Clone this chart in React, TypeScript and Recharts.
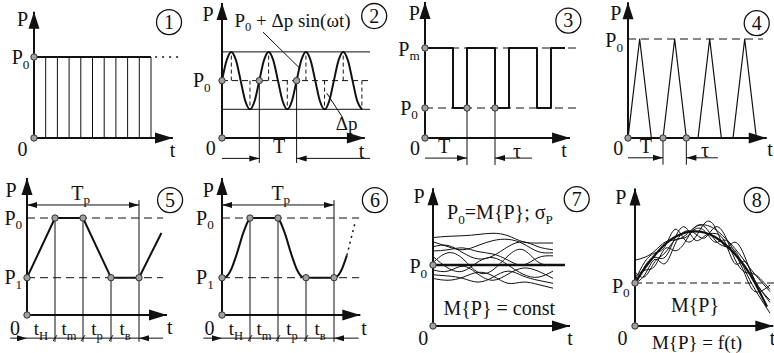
import React from "react";
import { LineChart, Line, XAxis, YAxis, ReferenceLine, ReferenceDot } from "recharts";

const W = 774;
const H = 353;
const FONT = "Liberation Serif";
const INK = "#111";

type Pt = { t: number; p: number };
const pts = (ts: number[], ps: number[]): Pt[] => ts.map((t, i) => ({ t, p: ps[i] }));

// ---------------- data ----------------
// Panel 1: constant load P0
const p1Time = [0, 10];
const p1Level = [1, 1];
const p1Rungs = [1, 2, 3, 4, 5, 6, 7, 8, 9, 10];

// Panel 2: harmonic load P0 + dp sin(wt)
const p2Time = [0, 0.125, 0.25, 0.375, 0.5, 0.625, 0.75, 0.875, 1, 1.125, 1.25, 1.375, 1.5, 1.625, 1.75, 1.875, 2, 2.125, 2.25, 2.375, 2.5, 2.625, 2.75, 2.875, 3, 3.125, 3.25, 3.375, 3.5, 3.625, 3.75];
const p2Wave = [2, 2.71, 3, 2.71, 2, 1.29, 1, 1.29, 2, 2.71, 3, 2.71, 2, 1.29, 1, 1.29, 2, 2.71, 3, 2.71, 2, 1.29, 1, 1.29, 2, 2.71, 3, 2.71, 2, 1.29, 1];
const p2Peaks = [0.25, 1.25, 2.25, 3.25];
const p2Troughs = [0.75, 1.75, 2.75, 3.75];

// Panel 3: rectangular pulses between P0 and Pm
const p3Time = [0, 2, 2, 3, 3, 5, 5, 6, 6, 8, 8, 9, 9, 10];
const p3Level = [3, 3, 1, 1, 3, 3, 1, 1, 3, 3, 1, 1, 3, 3];

// Panel 4: triangular pulses
const p4Time = [0, 1, 2, 3, 4, 5, 6, 7, 8, 9, 10, 11];
const p4Level = [0, 1, 0, 0, 1, 0, 0, 1, 0, 0, 1, 0];

// Panel 5: trapezoid cycle
const p5Time = [0, 1, 2, 3, 4, 4.8];
const p5Level = [1, 2.6, 2.6, 1, 1, 2.2];

// Panel 6: smoothed cycle
const p6Time = [0, 0.15, 0.3, 0.52, 0.76, 0.92, 1, 2, 2.08, 2.24, 2.48, 2.7, 2.85, 3, 4, 4.12, 4.25, 4.46];
const p6Level = [1, 1.03, 1.18, 1.62, 2.2, 2.5, 2.6, 2.6, 2.5, 2.2, 1.62, 1.18, 1.03, 1, 1, 1.04, 1.18, 1.6];
const p6TailTime = [4.46, 4.75];
const p6TailLevel = [1.6, 2.47];

// Panel 7: stationary random load
const p7Time = [0, 1.5, 3, 4.5, 6, 7.5, 9, 10.5, 12];
const p7Waves = [
  [1.45, 1.47, 1.48, 1.5, 1.52, 1.48, 1.38, 1.36, 1.36],
  [1.38, 1.3, 1.25, 1.32, 1.4, 1.42, 1.35, 1.22, 1.2],
  [1.3, 1.32, 1.2, 1.1, 1.15, 1.3, 1.38, 1.3, 1.25],
  [1.23, 1.25, 1.28, 1.22, 1.18, 1.08, 1.0, 1.12, 1.15],
  [1.14, 0.95, 0.9, 1.05, 1.12, 1.0, 0.85, 0.8, 0.9],
  [1.04, 1.2, 1.1, 0.88, 0.92, 1.15, 1.25, 1.05, 1.0],
  [0.92, 0.9, 0.98, 0.85, 0.75, 0.85, 0.95, 0.9, 0.78],
  [0.84, 0.82, 0.78, 0.72, 0.8, 0.9, 0.82, 0.75, 0.7],
  [0.78, 0.75, 0.8, 0.88, 0.82, 0.7, 0.72, 0.68, 0.62],
];
const p7MeanTime = [0, 13.2];
const p7MeanLevel = [1, 1];

// Panel 8: non-stationary random load
const p8Time = [0, 1, 2, 3, 4, 5, 6, 7, 8, 9, 10, 11, 12, 13.2];
const p8Mean = [1.0, 1.35, 1.65, 1.9, 2.07, 2.17, 2.2, 2.17, 2.07, 1.9, 1.67, 1.38, 1.0, 0.45];
const p8NoiseTime = [0, 1, 2, 3, 4, 5, 6, 7, 8, 9, 10, 11, 12, 13.5];
const p8Noise = [
  [1.53, 1.6, 1.75, 1.95, 2.0, 2.1, 2.3, 2.35, 2.25, 2.05, 1.8, 1.5, 1.2, 0.8],
  [1.05, 1.5, 1.7, 1.85, 2.25, 2.0, 2.05, 2.4, 2.3, 1.85, 1.95, 1.6, 1.05, 0.55],
  [1.0, 1.2, 1.55, 1.45, 1.9, 2.2, 2.15, 2.05, 2.3, 2.1, 1.55, 1.25, 1.2, 0.85],
  [1.15, 1.3, 1.4, 1.8, 1.75, 1.95, 2.3, 2.3, 2.0, 1.85, 1.75, 1.3, 0.85, 0.3],
  [0.92, 1.4, 1.6, 1.6, 2.05, 2.3, 2.0, 2.1, 2.15, 1.95, 1.45, 1.5, 1.05, 0.6],
  [1.26, 1.15, 1.5, 1.7, 2.0, 2.05, 2.25, 2.2, 1.95, 2.0, 1.7, 1.2, 0.8, 0.95],
];

// ---------------- drawing helpers ----------------
type Part = string | { sub: string };
const sub = (s: string): Part => ({ sub: s });

function renderText(cx: number, cy: number, parts: Part[], size: number) {
  const off = size * 0.24;
  let inSub = false;
  const spans = parts.map((part, i) => {
    if (typeof part === "string") {
      const dy = inSub ? -off : 0;
      inSub = false;
      return (
        <tspan key={i} dy={dy} style={{ fontSize: size }}>
          {part}
        </tspan>
      );
    }
    const dy = inSub ? 0 : off;
    inSub = true;
    return (
      <tspan key={i} dy={dy} style={{ fontSize: size * 0.66 }}>
        {part.sub}
      </tspan>
    );
  });
  return (
    <text
      x={cx}
      y={cy + size * 0.33}
      textAnchor="middle"
      fill={INK}
      style={{ whiteSpace: "pre", fontFamily: FONT, fontSize: size }}
    >
      {spans}
    </text>
  );
}

const seg = (x1: number, y1: number, x2: number, y2: number, w = 1, dash?: string) => (
  <ReferenceLine
    segment={[{ x: x1, y: y1 }, { x: x2, y: y2 }]}
    stroke={INK}
    strokeWidth={w}
    strokeDasharray={dash}
    ifOverflow="visible"
  />
);

function tri(cx: number, cy: number, dir: string, L: number, Wd: number) {
  const h = Wd / 2;
  if (dir === "right") return `${cx},${cy} ${cx - L},${cy - h} ${cx - L},${cy + h}`;
  if (dir === "left") return `${cx},${cy} ${cx + L},${cy - h} ${cx + L},${cy + h}`;
  return `${cx},${cy} ${cx - h},${cy + L} ${cx + h},${cy + L}`;
}

const head = (x: number, y: number, dir: string, L = 10, Wd = 6) => (
  <ReferenceDot
    x={x}
    y={y}
    r={1}
    ifOverflow="visible"
    shape={(pr: any) => <polygon points={tri(pr.cx, pr.cy, dir, L, Wd)} fill={INK} />}
  />
);

const dot = (x: number, y: number) => (
  <ReferenceDot x={x} y={y} r={3.2} fill="#a0a0a0" stroke="#333" strokeWidth={1} ifOverflow="visible" />
);

const txt = (x: number, y: number, parts: Part[], size = 20) => (
  <ReferenceDot x={x} y={y} r={1} ifOverflow="visible" shape={(pr: any) => renderText(pr.cx, pr.cy, parts, size)} />
);

const badge = (x: number, y: number, n: string) => (
  <ReferenceDot
    x={x}
    y={y}
    r={1}
    ifOverflow="visible"
    shape={(pr: any) => (
      <g>
        <circle cx={pr.cx} cy={pr.cy} r={12.5} fill="none" stroke={INK} strokeWidth={1.3} />
        <text x={pr.cx} y={pr.cy + 6.5} textAnchor="middle" fill={INK} style={{ fontFamily: FONT, fontSize: 20 }}>
          {n}
        </text>
      </g>
    )}
  />
);

const curve = (data: Pt[], w = 2, type: any = "linear", dash?: string) => (
  <Line
    data={data}
    dataKey="p"
    type={type}
    stroke={INK}
    strokeWidth={w}
    strokeDasharray={dash}
    strokeLinejoin="round"
    dot={false}
    activeDot={false}
    isAnimationActive={false}
  />
);

const axes = (yTip: number, xTip: number) => [
  seg(0, 0, 0, yTip, 2),
  head(0, yTip, "up", 17, 11),
  seg(0, 0, xTip, 0, 2),
  head(xTip, 0, "right", 18, 11),
];

type PanelProps = { ox: number; oy: number; sx: number; sy: number; items: React.ReactElement[] };

function Panel({ ox, oy, sx, sy, items }: PanelProps) {
  const xd: [number, number] = [-ox / sx, (W - ox) / sx];
  const yd: [number, number] = [(oy - H) / sy, oy / sy];
  return (
    <div style={{ position: "absolute", left: 0, top: 0 }}>
      <LineChart width={W} height={H} margin={{ top: 0, right: 0, bottom: 0, left: 0 }}>
        <XAxis type="number" dataKey="t" domain={xd} allowDataOverflow hide />
        <YAxis type="number" domain={yd} allowDataOverflow hide />
        {items.map((e, i) => React.cloneElement(e, { key: i }))}
      </LineChart>
    </div>
  );
}

// ---------------- panels ----------------
const panel1 = [
  ...axes(1.56, 11.88),
  ...p1Rungs.map((t) => seg(t, 0, t, 1, 1)),
  curve(pts(p1Time, p1Level), 2),
  seg(10.35, 1, 12.6, 1, 1.5, "2 5"),
  dot(0, 1),
  dot(0, 0),
  txt(-0.98, 1.46, ["P"]),
  txt(-1.15, 0.99, ["P", sub("0")]),
  txt(-0.98, -0.14, ["0"]),
  txt(11.84, -0.15, ["t"]),
  badge(11.54, 1.43, "1"),
];

const panel2 = [
  ...axes(4.7, 3.83),
  seg(0, 3, 3.97, 3, 1),
  seg(0, 1, 3.97, 1, 1),
  seg(0, 2, 3.97, 2, 1, "6 4"),
  ...p2Peaks.map((t) => seg(t, 2, t, 3, 1, "4 3")),
  ...p2Troughs.map((t) => seg(t, 2, t, 1, 1, "4 3")),
  curve(pts(p2Time, p2Wave), 2, "monotone"),
  seg(1, 2, 1, -0.87, 1),
  seg(2, 2, 2, -0.87, 1),
  seg(0, -0.71, 1, -0.71, 1),
  head(1, -0.71, "right"),
  seg(3.97, -0.71, 2, -0.71, 1),
  head(2, -0.71, "left"),
  seg(1.1, 3.69, 2.07, 2.45, 1),
  seg(2.81, 1.56, 3.23, 0.72, 1),
  dot(0, 2),
  dot(1, 2),
  dot(2, 2),
  dot(0, 0),
  txt(-0.375, 4.32, ["P"]),
  txt(-0.54, 1.99, ["P", sub("0")]),
  txt(-0.3, -0.35, ["0"]),
  txt(3.74, -0.45, ["t"]),
  txt(1.53, -0.31, ["T"]),
  txt(1.89, 4.09, ["P", sub("0"), " + Δp sin(ωt)"], 19),
  txt(3.34, 0.5, ["Δp"], 19),
  badge(4.08, 4.25, "2"),
];

const panel3 = [
  ...axes(4.53, 10.36),
  seg(0, 3, 10.9, 3, 1, "8 5"),
  seg(0, 1, 10.9, 1, 1, "8 5"),
  curve(pts(p3Time, p3Level), 2),
  seg(3, 1, 3, -0.9, 1),
  seg(5, 1, 5, -0.9, 1),
  seg(0, -0.67, 3, -0.67, 1),
  head(3, -0.67, "right"),
  seg(7.64, -0.67, 5, -0.67, 1),
  head(5, -0.67, "left"),
  dot(0, 3),
  dot(0, 1),
  dot(0, 0),
  dot(3, 1),
  dot(5, 1),
  txt(-0.76, 4.16, ["P"]),
  txt(-1.14, 2.97, ["P", sub("m")]),
  txt(-1.14, 1.0, ["P", sub("0")]),
  txt(-0.71, -0.33, ["0"]),
  txt(1.36, -0.27, ["T"]),
  txt(6.57, -0.43, ["τ"]),
  txt(9.93, -0.4, ["t"]),
  badge(10.24, 3.91, "3"),
];

const panel4 = [
  ...axes(1.37, 11.89),
  seg(0, 1, 11.57, 1, 1, "8 5"),
  curve(pts(p4Time, p4Level), 1.2),
  seg(3, 0, 3, -0.27, 1),
  seg(5, 0, 5, -0.27, 1),
  seg(0, -0.2, 3, -0.2, 1),
  head(3, -0.2, "right"),
  seg(7.7, -0.2, 5, -0.2, 1),
  head(5, -0.2, "left"),
  dot(0, 0),
  dot(3, 0),
  dot(5, 0),
  txt(-1.04, 1.26, ["P"]),
  txt(-1.18, 0.985, ["P", sub("0")]),
  txt(-0.83, -0.1, ["0"]),
  txt(1.53, -0.08, ["T"]),
  txt(6.6, -0.13, ["τ"]),
  txt(12.17, -0.12, ["t"]),
  badge(11.03, 1.16, "4"),
];

const cycleFrame = (xTip: number, dashEnd: number, rowStart: number, rowEnd: number) => [
  ...axes(3.67, xTip),
  seg(0, 2.6, dashEnd, 2.6, 1, "8 5"),
  seg(0, 1, dashEnd, 1, 1, "8 5"),
  seg(1, 2.6, 1, -0.72, 1),
  seg(2, 2.6, 2, -0.72, 1),
  seg(3, 1, 3, -0.72, 1),
  seg(4, 3.08, 4, -0.72, 1),
  seg(0, 2.95, 4, 2.95, 1),
  head(0, 2.95, "left"),
  head(4, 2.95, "right"),
  seg(rowStart, -0.62, rowEnd, -0.62, 1),
  head(0, -0.62, "right"),
  head(4, -0.62, "left"),
  seg(0.93, -0.7, 1.07, -0.54, 1),
  seg(1.93, -0.7, 2.07, -0.54, 1),
  seg(2.93, -0.7, 3.07, -0.54, 1),
  dot(1, 2.6),
  dot(2, 2.6),
  dot(3, 1),
  dot(4, 1),
  dot(0, 1),
  dot(0, 0),
  txt(0.5, -0.37, ["t", sub("Н")], 19),
  txt(1.5, -0.37, ["t", sub("m")], 19),
  txt(2.5, -0.37, ["t", sub("р")], 19),
  txt(3.5, -0.37, ["t", sub("в")], 19),
];

const panel5 = [
  ...cycleFrame(5.0, 4.86, -0.6, 4.86),
  curve(pts(p5Time, p5Level), 2),
  txt(-0.57, 3.35, ["P"]),
  txt(1.92, 3.27, ["T", sub("р")]),
  txt(-0.49, 2.6, ["P", sub("0")]),
  txt(-0.49, 1.0, ["P", sub("1")]),
  txt(-0.43, -0.35, ["0"]),
  txt(5.1, -0.32, ["t"]),
  badge(5.11, 3.08, "5"),
];

const panel6 = [
  ...cycleFrame(4.94, 4.9, -0.67, 4.88),
  curve(pts(p6Time, p6Level), 2, "monotone"),
  curve(pts(p6TailTime, p6TailLevel), 1.5, "linear", "2 4"),
  txt(-0.49, 3.35, ["P"]),
  txt(2.1, 3.27, ["T", sub("р")]),
  txt(-0.61, 2.6, ["P", sub("0")]),
  txt(-0.61, 1.0, ["P", sub("1")]),
  txt(-0.45, -0.35, ["0"]),
  txt(5.07, -0.35, ["t"]),
  badge(5.46, 3.08, "6"),
];

const panel7 = [
  ...axes(2.26, 13.7),
  ...p7Waves.map((w) => curve(pts(p7Time, w), 1, "natural")),
  curve(pts(p7MeanTime, p7MeanLevel), 2.5),
  dot(0, 1),
  dot(0, 0),
  txt(-1.4, 2.13, ["P"]),
  txt(-1.47, 0.97, ["P", sub("0")]),
  txt(-0.97, -0.2, ["0"]),
  txt(13.7, -0.2, ["t"]),
  txt(6.7, 1.86, ["P", sub("0"), "=M{P}; σ", sub("P")], 20),
  txt(6.63, 0.29, ["M{P} = const"], 20),
  badge(14.37, 2.08, "7"),
];

const panel8 = [
  ...axes(3.2, 13.83),
  seg(0, 1, 13.9, 1, 1, "7 4"),
  ...p8Noise.map((w) => curve(pts(p8NoiseTime, w), 1, "natural")),
  curve(pts(p8Time, p8Mean), 2.2, "natural"),
  dot(0, 1),
  dot(0, 0),
  txt(-1.42, 2.99, ["P"]),
  txt(-1.42, 0.93, ["P", sub("0")]),
  txt(-1.25, -0.28, ["0"]),
  txt(13.75, -0.28, ["t"]),
  txt(6.0, 0.47, ["M{P}"], 20),
  txt(6.2, -0.38, ["M{P} = f(t)"], 19),
  badge(12.17, 2.93, "8"),
];

export default function App() {
  return (
    <div style={{ position: "absolute", left: 0, top: 0, width: W, height: H, background: "#fff", overflow: "hidden" }}>
      <Panel ox={34} oy={138} sx={11.7} sy={81} items={panel1} />
      <Panel ox={222} oy={138} sx={37.3} sy={28.7} items={panel2} />
      <Panel ox={425} oy={138} sx={14} sy={30} items={panel3} />
      <Panel ox={628} oy={138} sx={11.67} sy={99} items={panel4} />
      <Panel ox={27} oy={315} sx={28} sy={37.3} items={panel5} />
      <Panel ox={222} oy={315} sx={28} sy={37.3} items={panel6} />
      <Panel ox={433} oy={326} sx={10} sy={61} items={panel7} />
      <Panel ox={635} oy={326} sx={10} sy={43} items={panel8} />
    </div>
  );
}
